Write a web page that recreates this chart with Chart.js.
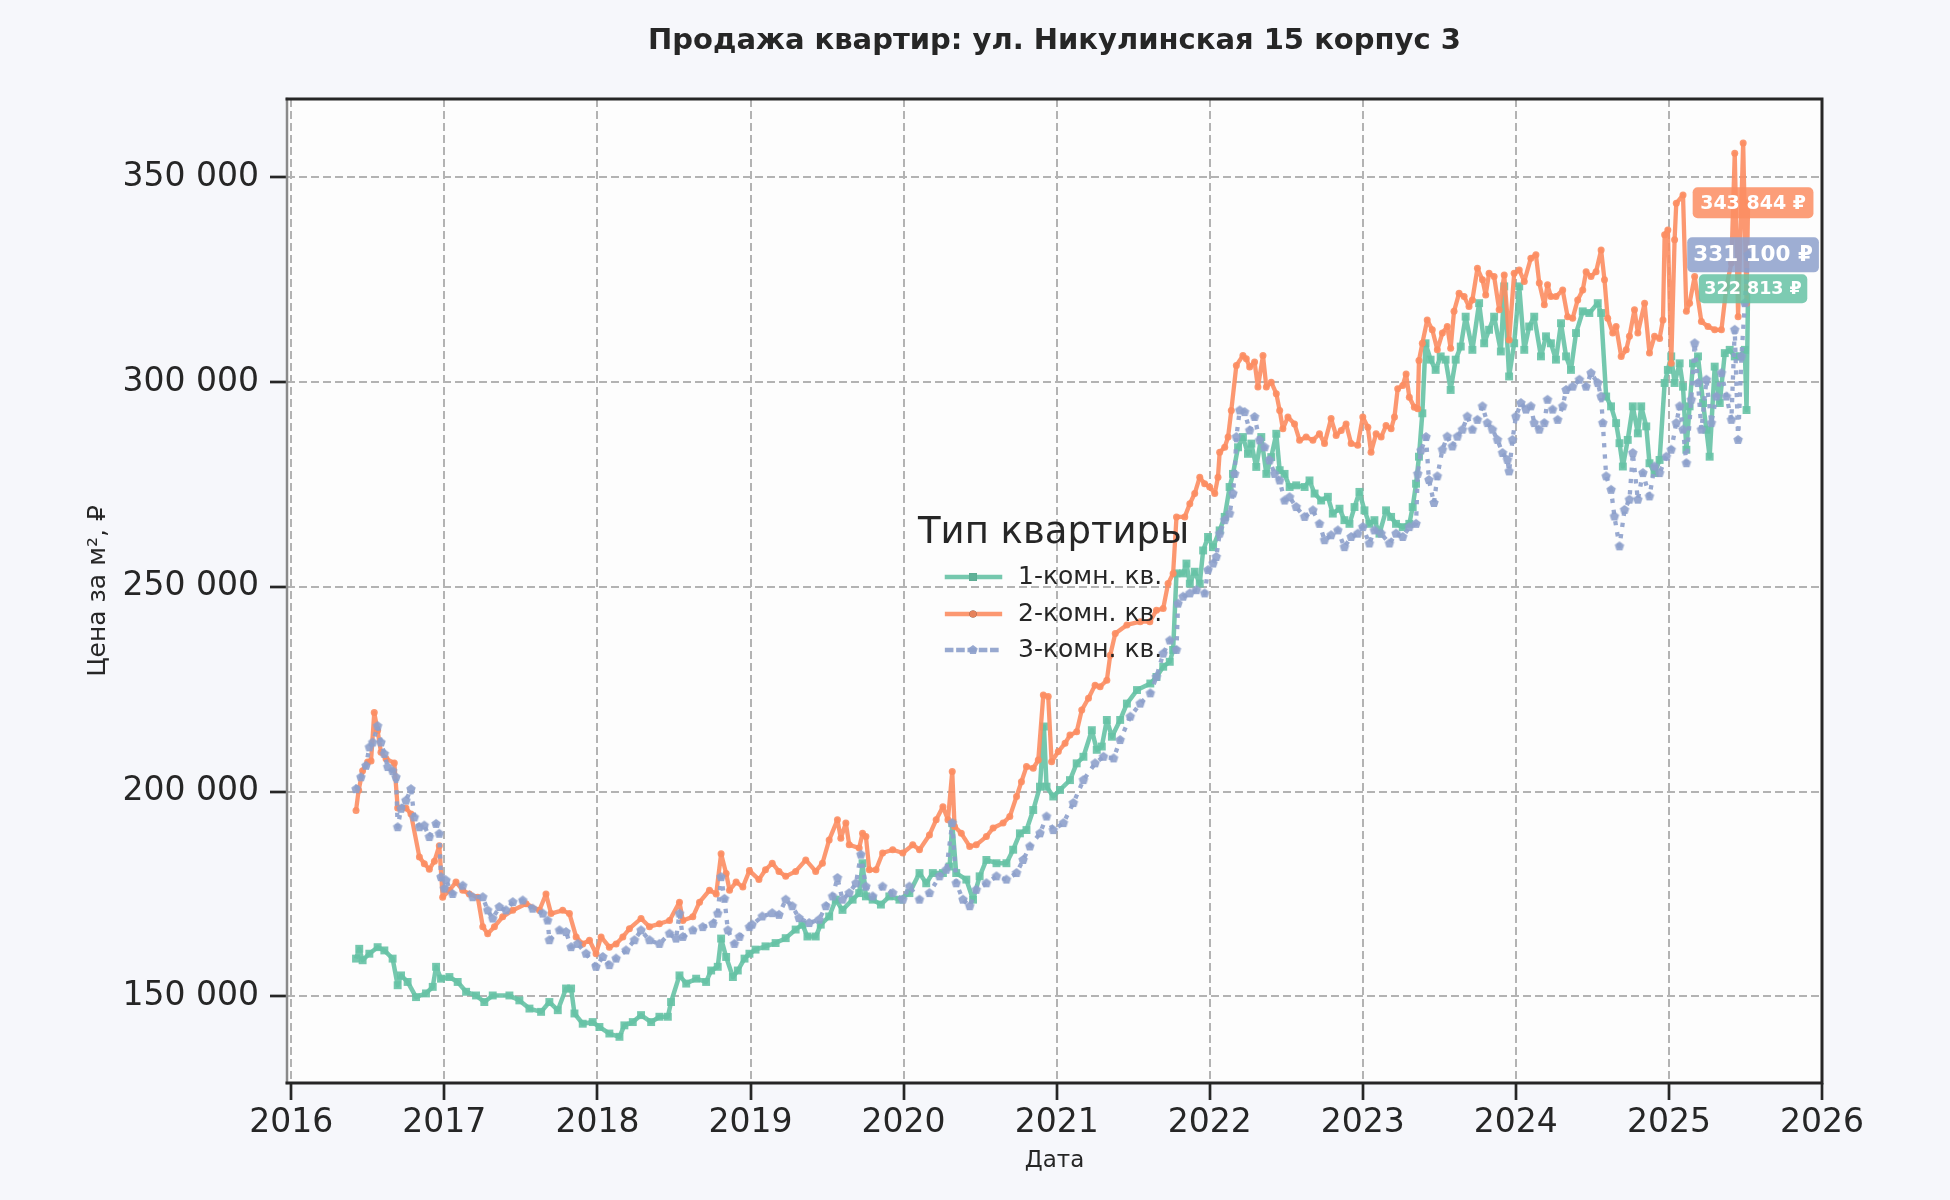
<!DOCTYPE html>
<html lang="ru">
<head>
<meta charset="utf-8">
<title>Продажа квартир: ул. Никулинская 15 корпус 3</title>
<script src="https://cdn.jsdelivr.net/npm/chart.js@4.4.1/dist/chart.umd.min.js"></script>
<style>
  html, body { margin: 0; padding: 0; background: #f6f7fb; }
  canvas { display: block; }
</style>
</head>
<body>
<canvas id="priceChart" width="1950" height="1200"></canvas>
<script>
// --- data, dates as decimal years ---
const chartTitle = 'Продажа квартир: ул. Никулинская 15 корпус 3';
const legendTitle = 'Тип квартиры';
const seriesNames = ['1-комн. кв.', '2-комн. кв.', '3-комн. кв.'];
const xAxisTitle = 'Дата';
const yAxisTitle = 'Цена за м², ₽';
const yearTicks = [2016, 2017, 2018, 2019, 2020, 2021, 2022, 2023, 2024, 2025, 2026];
const priceTicks = [150000, 200000, 250000, 300000, 350000];

const oneRoomDates = [
  2016.423, 2016.444, 2016.466, 2016.510, 2016.564, 2016.608, 2016.662, 2016.695, 2016.717, 2016.760,
  2016.815, 2016.880, 2016.924, 2016.946, 2016.978, 2017.033, 2017.087, 2017.142, 2017.207, 2017.261,
  2017.316, 2017.425, 2017.490, 2017.556, 2017.632, 2017.686, 2017.741, 2017.795, 2017.828, 2017.850,
  2017.904, 2017.969, 2018.013, 2018.078, 2018.144, 2018.176, 2018.231, 2018.285, 2018.351, 2018.405,
  2018.460, 2018.481, 2018.536, 2018.580, 2018.645, 2018.710, 2018.743, 2018.786, 2018.808, 2018.841,
  2018.885, 2018.917, 2018.961, 2018.993, 2019.033, 2019.098, 2019.164, 2019.230, 2019.295, 2019.339,
  2019.372, 2019.426, 2019.459, 2019.514, 2019.557, 2019.601, 2019.667, 2019.710, 2019.732, 2019.754,
  2019.798, 2019.852, 2019.907, 2019.973, 2020.038, 2020.104, 2020.148, 2020.191, 2020.257, 2020.301,
  2020.318, 2020.344, 2020.410, 2020.454, 2020.497, 2020.541, 2020.607, 2020.672, 2020.716, 2020.760,
  2020.803, 2020.847, 2020.891, 2020.917, 2020.934, 2020.978, 2021.022, 2021.087, 2021.131, 2021.175,
  2021.230, 2021.262, 2021.295, 2021.328, 2021.361, 2021.415, 2021.459, 2021.525, 2021.612, 2021.652,
  2021.696, 2021.739, 2021.761, 2021.783, 2021.826, 2021.848, 2021.870, 2021.902, 2021.935, 2021.957,
  2021.989, 2022.022, 2022.065, 2022.098, 2022.130, 2022.152, 2022.185, 2022.217, 2022.250, 2022.272,
  2022.304, 2022.337, 2022.370, 2022.402, 2022.435, 2022.457, 2022.489, 2022.522, 2022.565, 2022.620,
  2022.652, 2022.685, 2022.728, 2022.772, 2022.804, 2022.848, 2022.880, 2022.913, 2022.946, 2022.978,
  2023.011, 2023.043, 2023.076, 2023.109, 2023.152, 2023.185, 2023.217, 2023.261, 2023.304, 2023.326,
  2023.348, 2023.367, 2023.389, 2023.410, 2023.443, 2023.476, 2023.509, 2023.541, 2023.574, 2023.607,
  2023.640, 2023.672, 2023.716, 2023.760, 2023.793, 2023.825, 2023.858, 2023.902, 2023.924, 2023.956,
  2023.989, 2024.022, 2024.055, 2024.087, 2024.120, 2024.164, 2024.197, 2024.229, 2024.262, 2024.295,
  2024.328, 2024.360, 2024.393, 2024.437, 2024.480, 2024.535, 2024.557, 2024.590, 2024.622, 2024.655,
  2024.677, 2024.699, 2024.731, 2024.764, 2024.797, 2024.819, 2024.852, 2024.873, 2024.906, 2024.939,
  2024.972, 2024.993, 2025.015, 2025.037, 2025.070, 2025.092, 2025.114, 2025.135, 2025.157, 2025.190,
  2025.223, 2025.245, 2025.266, 2025.299, 2025.332, 2025.365, 2025.397, 2025.430, 2025.463, 2025.496,
  2025.507, 2025.517
];
const oneRoomPrices = [
  159200, 161600, 158800, 160400, 162000, 161200, 159200, 152700, 155100, 153500,
  149800, 150700, 152300, 157200, 154300, 154700, 153500, 151100, 150200, 148600,
  150200, 150200, 149000, 147000, 146200, 148600, 146600, 151900, 151900, 145800,
  143300, 143700, 142500, 140900, 140100, 142900, 143700, 145400, 143700, 145000,
  145000, 148600, 155100, 153100, 154300, 153500, 156300, 157200, 164100, 159600,
  154700, 156300, 159200, 160400, 161400, 162200, 163000, 164200, 166300, 167500,
  164600, 164600, 167500, 169500, 173600, 171100, 173600, 175200, 182500, 174400,
  173600, 172400, 174400, 173600, 175200, 180100, 177600, 180100, 180100, 181700,
  192300, 180100, 178500, 173600, 179300, 183300, 182500, 182500, 185800, 189800,
  190600, 195500, 201200, 215900, 201200, 198800, 200400, 202800, 206900, 208500,
  215000, 210200, 211000, 217500, 213400, 217500, 221500, 224800, 226400, 228000,
  230500, 231700, 234600, 253300, 253300, 255700, 250800, 253700, 250800, 258900,
  262200, 259700, 263800, 267100, 274400, 277600, 284100, 286600, 282500, 285000,
  279300, 286600, 277600, 281700, 287400, 278500, 277600, 274400, 274800, 274400,
  276000, 272800, 271100, 272000, 267900, 269100, 266300, 265400, 269500, 273200,
  268700, 265400, 266300, 263000, 268700, 267100, 265400, 264600, 265400, 269500,
  275200, 281800, 292400, 309500, 305500, 303000, 306300, 305500, 298100, 305500,
  308700, 316000, 307900, 319300, 309500, 312800, 316000, 307500, 323400, 301400,
  309500, 323400, 307900, 313600, 316000, 306300, 311200, 309500, 305500, 314400,
  306300, 303000, 312000, 317300, 316900, 319300, 316900, 296500, 294100, 290000,
  285100, 279400, 285900, 294100, 287500, 294100, 289200, 280200, 277800, 281000,
  299800, 303000, 306300, 299800, 304600, 298900, 283500, 294100, 304600, 306300,
  294900, 288400, 281800, 303800, 294900, 307100, 307900, 306300, 306300, 307900,
  293200, 322813
];

const twoRoomDates = [
  2016.423, 2016.440, 2016.466, 2016.499, 2016.521, 2016.542, 2016.564, 2016.586, 2016.619, 2016.673,
  2016.695, 2016.749, 2016.782, 2016.837, 2016.869, 2016.902, 2016.935, 2016.967, 2016.989, 2017.033,
  2017.076, 2017.120, 2017.163, 2017.218, 2017.251, 2017.283, 2017.327, 2017.381, 2017.447, 2017.534,
  2017.621, 2017.664, 2017.697, 2017.773, 2017.817, 2017.861, 2017.904, 2017.948, 2017.991, 2018.024,
  2018.078, 2018.122, 2018.166, 2018.209, 2018.285, 2018.340, 2018.405, 2018.471, 2018.536, 2018.558,
  2018.623, 2018.667, 2018.732, 2018.776, 2018.808, 2018.841, 2018.863, 2018.906, 2018.950, 2018.993,
  2019.055, 2019.098, 2019.142, 2019.186, 2019.230, 2019.295, 2019.361, 2019.426, 2019.470, 2019.514,
  2019.568, 2019.590, 2019.623, 2019.645, 2019.710, 2019.732, 2019.754, 2019.776, 2019.820, 2019.863,
  2019.929, 2019.995, 2020.060, 2020.104, 2020.169, 2020.213, 2020.257, 2020.290, 2020.318, 2020.333,
  2020.377, 2020.432, 2020.475, 2020.541, 2020.585, 2020.650, 2020.694, 2020.738, 2020.770, 2020.803,
  2020.847, 2020.880, 2020.913, 2020.945, 2020.967, 2021.011, 2021.055, 2021.087, 2021.131, 2021.164,
  2021.208, 2021.251, 2021.284, 2021.328, 2021.350, 2021.383, 2021.459, 2021.546, 2021.609, 2021.652,
  2021.696, 2021.728, 2021.761, 2021.783, 2021.837, 2021.870, 2021.902, 2021.935, 2021.967, 2022.000,
  2022.033, 2022.054, 2022.065, 2022.098, 2022.120, 2022.141, 2022.174, 2022.217, 2022.239, 2022.261,
  2022.293, 2022.315, 2022.348, 2022.370, 2022.402, 2022.435, 2022.457, 2022.478, 2022.511, 2022.554,
  2022.587, 2022.630, 2022.674, 2022.717, 2022.750, 2022.793, 2022.826, 2022.859, 2022.891, 2022.924,
  2022.967, 2023.000, 2023.033, 2023.054, 2023.087, 2023.120, 2023.152, 2023.185, 2023.207, 2023.228,
  2023.261, 2023.283, 2023.304, 2023.337, 2023.359, 2023.367, 2023.389, 2023.421, 2023.454, 2023.487,
  2023.520, 2023.552, 2023.574, 2023.596, 2023.629, 2023.662, 2023.694, 2023.716, 2023.749, 2023.782,
  2023.803, 2023.825, 2023.858, 2023.891, 2023.924, 2023.956, 2023.989, 2024.022, 2024.055, 2024.098,
  2024.131, 2024.153, 2024.186, 2024.207, 2024.229, 2024.262, 2024.306, 2024.338, 2024.371, 2024.404,
  2024.437, 2024.459, 2024.491, 2024.524, 2024.557, 2024.579, 2024.600, 2024.633, 2024.655, 2024.688,
  2024.721, 2024.742, 2024.775, 2024.797, 2024.841, 2024.873, 2024.906, 2024.939, 2024.961, 2024.972,
  2024.993, 2025.015, 2025.037, 2025.048, 2025.092, 2025.114, 2025.135, 2025.168, 2025.212, 2025.255,
  2025.299, 2025.343, 2025.376, 2025.408, 2025.430, 2025.452, 2025.485, 2025.507, 2025.517
];
const twoRoomPrices = [
  195400, 200300, 205100, 207200, 207500, 219300, 214900, 209600, 208000, 207000,
  196000, 196000, 194500, 184000, 182400, 181000, 183000, 186800, 174200, 175900,
  177900, 175900, 175000, 174200, 167000, 165300, 167000, 169400, 171000, 172600,
  171000, 175000, 170200, 171000, 170200, 164500, 162800, 163700, 160400, 164500,
  162000, 162800, 164500, 166500, 169000, 167000, 167700, 168500, 173000, 168500,
  169400, 173000, 175900, 175000, 184800, 180000, 175900, 177900, 176700, 180700,
  178500, 180900, 182500, 180500, 179300, 180500, 183300, 180500, 182500, 188200,
  193100, 188600, 192300, 187000, 186200, 189800, 189000, 180900, 180900, 185000,
  185800, 185000, 187000, 185800, 189400, 193100, 196300, 193100, 204900, 191500,
  189800, 186600, 187000, 189000, 191100, 192300, 193900, 198800, 202400, 206100,
  205700, 207700, 223600, 223200, 207300, 209800, 211800, 213800, 214600, 219900,
  222800, 226000, 225600, 227200, 233300, 238600, 240700, 241500, 241500, 244300,
  244700, 250800, 253300, 267100, 267100, 270300, 272800, 276800, 275200, 274400,
  272800, 276800, 282900, 284100, 286600, 293100, 304100, 306500, 305700, 303700,
  304900, 298800, 306500, 298800, 300000, 297200, 293100, 288600, 291500, 289800,
  285800, 286600, 285800, 287400, 285000, 291100, 287000, 288200, 289800, 285000,
  284600, 291500, 289000, 282900, 287400, 286600, 289400, 288600, 291500, 298400,
  299200, 302000, 296300, 293900, 293500, 305300, 309500, 315200, 312800, 307900,
  312000, 313600, 308300, 317300, 321700, 320900, 318500, 320100, 327800, 325000,
  321300, 326600, 325800, 317700, 326200, 310300, 326600, 327400, 324600, 330300,
  331100, 324200, 318900, 323800, 320900, 320900, 322500, 316000, 315600, 320100,
  322500, 327000, 325800, 327000, 332300, 325000, 315600, 312000, 313600, 306300,
  307900, 311200, 317700, 312000, 319300, 307100, 311200, 310700, 315200, 336000,
  337200, 304600, 334800, 343700, 345700, 317300, 319300, 325800, 314800, 313600,
  312800, 312800, 323400, 329100, 355900, 316000, 358400, 319300, 343844
];

const threeRoomDates = [
  2016.423, 2016.455, 2016.488, 2016.510, 2016.532, 2016.564, 2016.586, 2016.608, 2016.630, 2016.662,
  2016.684, 2016.695, 2016.717, 2016.749, 2016.782, 2016.804, 2016.837, 2016.869, 2016.902, 2016.946,
  2016.967, 2016.978, 2017.000, 2017.011, 2017.054, 2017.120, 2017.185, 2017.251, 2017.283, 2017.316,
  2017.359, 2017.403, 2017.447, 2017.512, 2017.577, 2017.643, 2017.675, 2017.686, 2017.752, 2017.795,
  2017.828, 2017.871, 2017.926, 2017.991, 2018.035, 2018.078, 2018.122, 2018.187, 2018.242, 2018.285,
  2018.340, 2018.405, 2018.471, 2018.514, 2018.536, 2018.558, 2018.623, 2018.688, 2018.754, 2018.786,
  2018.808, 2018.830, 2018.852, 2018.895, 2018.928, 2018.993, 2019.011, 2019.077, 2019.142, 2019.186,
  2019.230, 2019.273, 2019.317, 2019.383, 2019.448, 2019.492, 2019.536, 2019.568, 2019.601, 2019.645,
  2019.689, 2019.721, 2019.754, 2019.798, 2019.863, 2019.929, 2019.995, 2020.038, 2020.104, 2020.169,
  2020.235, 2020.279, 2020.318, 2020.344, 2020.388, 2020.432, 2020.475, 2020.541, 2020.607, 2020.672,
  2020.738, 2020.781, 2020.825, 2020.891, 2020.934, 2020.978, 2021.044, 2021.109, 2021.175, 2021.251,
  2021.306, 2021.372, 2021.415, 2021.481, 2021.546, 2021.612, 2021.652, 2021.696, 2021.739, 2021.783,
  2021.793, 2021.826, 2021.870, 2021.913, 2021.967, 2021.989, 2022.022, 2022.043, 2022.065, 2022.098,
  2022.130, 2022.152, 2022.163, 2022.174, 2022.196, 2022.228, 2022.261, 2022.293, 2022.326, 2022.359,
  2022.391, 2022.424, 2022.457, 2022.489, 2022.522, 2022.565, 2022.620, 2022.674, 2022.717, 2022.750,
  2022.793, 2022.837, 2022.880, 2022.924, 2022.967, 2023.000, 2023.043, 2023.076, 2023.120, 2023.174,
  2023.217, 2023.261, 2023.304, 2023.348, 2023.359, 2023.380, 2023.413, 2023.432, 2023.465, 2023.487,
  2023.520, 2023.552, 2023.585, 2023.618, 2023.651, 2023.683, 2023.716, 2023.749, 2023.782, 2023.814,
  2023.847, 2023.880, 2023.913, 2023.945, 2023.956, 2023.978, 2024.000, 2024.033, 2024.066, 2024.098,
  2024.120, 2024.153, 2024.186, 2024.207, 2024.240, 2024.273, 2024.306, 2024.328, 2024.371, 2024.415,
  2024.459, 2024.491, 2024.535, 2024.557, 2024.568, 2024.590, 2024.622, 2024.644, 2024.677, 2024.710,
  2024.742, 2024.764, 2024.797, 2024.830, 2024.873, 2024.906, 2024.939, 2024.983, 2025.015, 2025.048,
  2025.070, 2025.092, 2025.114, 2025.146, 2025.168, 2025.190, 2025.212, 2025.245, 2025.277, 2025.310,
  2025.343, 2025.376, 2025.408, 2025.430, 2025.452, 2025.474, 2025.496, 2025.517
];
const threeRoomPrices = [
  200600, 203500, 206300, 210800, 212000, 216000, 212000, 209200, 206000, 205000,
  203500, 191300, 195800, 197800, 200600, 193700, 191300, 191700, 188900, 192100,
  189700, 179100, 176300, 178300, 175000, 177000, 174200, 174200, 171000, 169000,
  171800, 171000, 173000, 173400, 171400, 170200, 168500, 163700, 166100, 165700,
  162000, 162800, 160400, 157200, 159600, 157600, 159200, 161200, 163700, 166100,
  163700, 162800, 165300, 164100, 170200, 164500, 166100, 166900, 167700, 170200,
  179100, 173800, 166100, 162800, 164500, 166900, 167500, 169500, 170300, 169900,
  173600, 172000, 169100, 167900, 168700, 172000, 174400, 178900, 173600, 175200,
  177600, 184600, 176800, 174400, 176800, 175200, 173600, 176800, 173600, 175200,
  179300, 180900, 192300, 177600, 173600, 172000, 176000, 177600, 179300, 178500,
  180100, 183300, 186600, 189800, 193900, 190600, 192300, 197200, 202800, 206900,
  208500, 208100, 212600, 218300, 221500, 224000, 228000, 233700, 236900, 234600,
  245900, 247600, 248400, 249200, 248400, 254100, 255700, 257300, 263000, 266300,
  267900, 272800, 277600, 286600, 293100, 292700, 288200, 291500, 285800, 284100,
  280900, 277600, 276000, 271100, 271900, 269500, 267100, 268700, 265400, 261400,
  262600, 263800, 259700, 262200, 263000, 264600, 260600, 263800, 263000, 260600,
  263000, 262200, 264600, 265400, 277600, 283300, 286600, 276100, 270500, 277000,
  283500, 286700, 284300, 286700, 288400, 291600, 288400, 290800, 294100, 290000,
  288400, 285900, 282700, 281000, 278200, 285900, 291600, 294900, 293300, 294100,
  290000, 288400, 290000, 295700, 293300, 290800, 294100, 298100, 298900, 300600,
  298900, 302200, 299800, 296500, 290000, 277000, 273700, 267200, 259900, 268800,
  271300, 282700, 271300, 277800, 272100, 279400, 277800, 281800, 283500, 290000,
  294100, 288400, 280200, 295700, 309500, 299800, 288400, 300600, 290000, 296500,
  302200, 296500, 290800, 312800, 285900, 306300, 319300, 331100
];

// --- styles ---
const FONT = "'DejaVu Sans', 'Noto Sans', sans-serif";
const TEXT = '#262626';
const GREEN = 'rgba(102, 194, 165, 0.9)';
const ORANGE = 'rgba(252, 141, 98, 0.9)';
const BLUE = 'rgba(141, 160, 203, 0.9)';
const GREEN_BOX = 'rgba(102, 194, 165, 0.85)';
const ORANGE_BOX = 'rgba(252, 141, 98, 0.85)';
const BLUE_BOX = 'rgba(141, 160, 203, 0.85)';

function toPoints(dates, prices) {
  return dates.map(function (d, i) { return { x: d, y: prices[i] }; });
}

function groupThousands(v) {
  return String(Math.round(v)).replace(/\B(?=(\d{3})+(?!\d))/g, ' ');
}

function makePentagon(color, r) {
  const c = document.createElement('canvas');
  c.width = c.height = Math.ceil(2 * r + 2);
  const g = c.getContext('2d');
  g.fillStyle = color;
  g.beginPath();
  for (let k = 0; k < 5; k++) {
    const a = -Math.PI / 2 + k * 2 * Math.PI / 5;
    const px = c.width / 2 + r * Math.cos(a);
    const py = c.height / 2 + r * Math.sin(a);
    if (k === 0) g.moveTo(px, py); else g.lineTo(px, py);
  }
  g.closePath();
  g.fill();
  return c;
}
const pentagon = makePentagon(BLUE, 5);

// background, frame, titles, legend and end labels
const decorPlugin = {
  id: 'decor',
  beforeDraw(chart) {
    const ctx = chart.ctx, a = chart.chartArea;
    ctx.save();
    ctx.fillStyle = '#f6f7fb';
    ctx.fillRect(0, 0, chart.width, chart.height);
    ctx.fillStyle = '#fdfdfd';
    ctx.fillRect(a.left, a.top, a.right - a.left, a.bottom - a.top);
    ctx.restore();
  },
  afterDraw(chart) {
    const ctx = chart.ctx, a = chart.chartArea;
    const xs = chart.scales.x, ys = chart.scales.y;
    ctx.save();

    // frame
    ctx.lineCap = 'square';
    ctx.strokeStyle = '#8a8a8a';
    ctx.lineWidth = 2.5;
    ctx.beginPath(); ctx.moveTo(a.left, a.top); ctx.lineTo(a.left, a.bottom); ctx.stroke();
    ctx.strokeStyle = TEXT;
    ctx.lineWidth = 3;
    ctx.beginPath();
    ctx.moveTo(a.left, a.top); ctx.lineTo(a.right, a.top); ctx.lineTo(a.right, a.bottom); ctx.lineTo(a.left, a.bottom);
    ctx.stroke();

    // titles
    ctx.fillStyle = TEXT;
    ctx.textAlign = 'center';
    ctx.textBaseline = 'middle';
    ctx.font = 'bold 29px ' + FONT;
    ctx.fillText(chartTitle, (a.left + a.right) / 2, 41);
    ctx.font = '23px ' + FONT;
    ctx.fillText(xAxisTitle, (a.left + a.right) / 2, 1161);
    ctx.save();
    ctx.translate(98, (a.top + a.bottom) / 2);
    ctx.rotate(-Math.PI / 2);
    ctx.font = '25px ' + FONT;
    ctx.fillText(yAxisTitle, 0, 0);
    ctx.restore();

    // legend
    ctx.textAlign = 'left';
    ctx.font = '37px ' + FONT;
    ctx.fillText(legendTitle, 918, 533);
    const rows = [577, 614, 650];
    chart.data.datasets.forEach(function (ds, i) {
      const y = rows[i];
      ctx.save();
      ctx.strokeStyle = ds.borderColor;
      ctx.lineWidth = ds.borderWidth;
      ctx.setLineDash(ds.borderDash || []);
      ctx.beginPath(); ctx.moveTo(947, y); ctx.lineTo(1000, y); ctx.stroke();
      ctx.restore();
      if (ds.pointStyle instanceof HTMLCanvasElement) {
        ctx.drawImage(ds.pointStyle, 973 - ds.pointStyle.width / 2, y - ds.pointStyle.height / 2);
      } else {
        Chart.helpers.drawPoint(ctx, { pointStyle: ds.pointStyle, radius: ds.pointRadius, borderWidth: 0 }, 973, y);
        ctx.fillStyle = ds.pointBackgroundColor;
        ctx.fill();
      }
      ctx.fillStyle = TEXT;
      ctx.font = '25px ' + FONT;
      ctx.fillText(ds.label, 1018, y);
    });

    // labels with the last value of each series
    const boxes = [
      { ds: 1, color: ORANGE_BOX, size: 19, padX: 7.5, h: 31 },
      { ds: 2, color: BLUE_BOX, size: 21.5, padX: 6, h: 35 },
      { ds: 0, color: GREEN_BOX, size: 17.5, padX: 5.5, h: 29 }
    ];
    boxes.forEach(function (b) {
      const pts = chart.data.datasets[b.ds].data;
      const last = pts[pts.length - 1];
      const text = groupThousands(last.y) + ' ₽';
      const cx = xs.getPixelForValue(last.x) + 5;
      const cy = ys.getPixelForValue(last.y);
      ctx.font = 'bold ' + b.size + 'px ' + FONT;
      const w = ctx.measureText(text).width + 2 * b.padX;
      ctx.fillStyle = b.color;
      ctx.beginPath();
      ctx.roundRect(cx - w / 2, cy - b.h / 2, w, b.h, 5);
      ctx.fill();
      ctx.fillStyle = '#ffffff';
      ctx.textAlign = 'center';
      ctx.fillText(text, cx, cy + 1);
    });
    ctx.restore();
  }
};

new Chart(document.getElementById('priceChart'), {
  type: 'line',
  data: {
    datasets: [
      {
        label: seriesNames[0],
        data: toPoints(oneRoomDates, oneRoomPrices),
        borderColor: GREEN,
        borderWidth: 4.5,
        pointStyle: 'rect',
        pointRadius: 5.6,
        pointBackgroundColor: GREEN,
        pointBorderWidth: 0,
        order: 2
      },
      {
        label: seriesNames[1],
        data: toPoints(twoRoomDates, twoRoomPrices),
        borderColor: ORANGE,
        borderWidth: 4.3,
        pointStyle: 'circle',
        pointRadius: 3.5,
        pointBackgroundColor: ORANGE,
        pointBorderWidth: 0,
        order: 1
      },
      {
        label: seriesNames[2],
        data: toPoints(threeRoomDates, threeRoomPrices),
        borderColor: BLUE,
        borderWidth: 4.3,
        borderDash: [4.3, 7],
        pointStyle: pentagon,
        pointRadius: 5,
        pointBackgroundColor: BLUE,
        pointBorderWidth: 0,
        order: 0
      }
    ]
  },
  options: {
    responsive: false,
    animation: false,
    devicePixelRatio: 1,
    layout: { padding: { top: 99, right: 128, bottom: 0, left: 0 } },
    elements: { line: { tension: 0, borderJoinStyle: 'round' } },
    plugins: {
      legend: { display: false },
      title: { display: false },
      tooltip: { enabled: false }
    },
    scales: {
      x: {
        type: 'linear',
        min: 2015.972,
        max: 2026,
        afterFit: function (s) { s.height = 117; },
        afterBuildTicks: function (s) { s.ticks = yearTicks.map(function (v) { return { value: v }; }); },
        grid: {
          color: '#b3b3b3', lineWidth: 2,
          tickLength: 17, tickWidth: 2.7, tickColor: TEXT, tickBorderDash: []
        },
        border: { display: false, dash: [8, 4] },
        ticks: {
          maxRotation: 0, autoSkip: false,
          padding: 4, color: TEXT, font: { family: FONT, size: 33 },
          callback: function (v) { return String(v); }
        }
      },
      y: {
        type: 'linear',
        min: 128820,
        max: 369170,
        afterFit: function (s) { s.width = 287; },
        afterBuildTicks: function (s) { s.ticks = priceTicks.map(function (v) { return { value: v }; }); },
        grid: {
          color: '#b3b3b3', lineWidth: 2,
          tickLength: 17, tickWidth: 2.7, tickColor: TEXT, tickBorderDash: []
        },
        border: { display: false, dash: [8, 4] },
        ticks: {
          padding: 11, color: TEXT, font: { family: FONT, size: 33 },
          callback: function (v) { return groupThousands(v); }
        }
      }
    }
  },
  plugins: [decorPlugin]
});
</script>
</body>
</html>
